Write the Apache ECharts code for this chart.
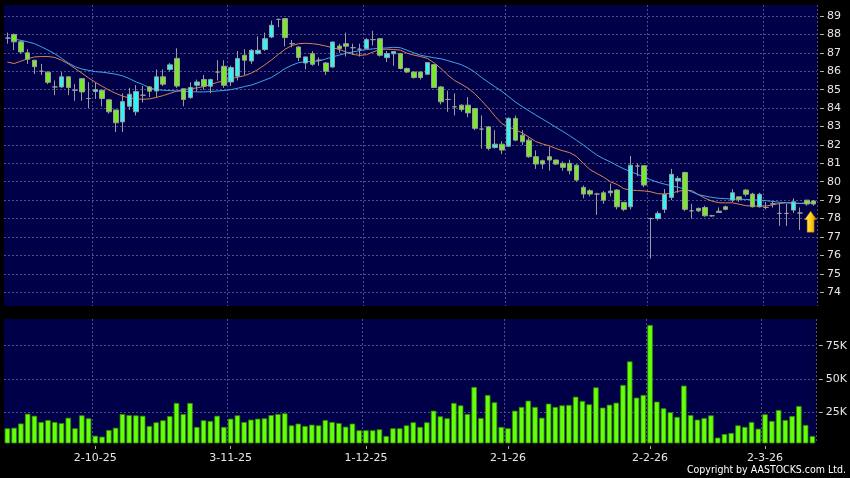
<!DOCTYPE html>
<html><head><meta charset="utf-8">
<script src="https://cdn.jsdelivr.net/npm/echarts@6/dist/echarts.min.js"></script>
<style>html,body{margin:0;padding:0;background:#000;}#c{width:850px;height:478px;}</style>
</head><body><div id="c"></div>
<script>
const dates = [
'12-9-25','15-9-25','16-9-25','17-9-25','18-9-25','19-9-25','22-9-25','23-9-25','24-9-25','25-9-25','26-9-25','29-9-25','30-9-25',
'2-10-25','3-10-25','6-10-25','8-10-25','9-10-25','10-10-25','13-10-25','14-10-25','15-10-25','16-10-25','17-10-25','20-10-25','21-10-25','22-10-25','23-10-25','24-10-25','27-10-25','28-10-25','30-10-25','31-10-25',
'3-11-25','4-11-25','5-11-25','6-11-25','7-11-25','10-11-25','11-11-25','12-11-25','13-11-25','14-11-25','17-11-25','18-11-25','19-11-25','20-11-25','21-11-25','24-11-25','25-11-25','26-11-25','27-11-25','28-11-25',
'1-12-25','2-12-25','3-12-25','4-12-25','5-12-25','8-12-25','9-12-25','10-12-25','11-12-25','12-12-25','15-12-25','16-12-25','17-12-25','18-12-25','19-12-25','22-12-25','23-12-25','24-12-25','29-12-25','30-12-25','31-12-25',
'2-1-26','5-1-26','6-1-26','7-1-26','8-1-26','9-1-26','12-1-26','13-1-26','14-1-26','15-1-26','16-1-26','19-1-26','20-1-26','21-1-26','22-1-26','23-1-26','26-1-26','27-1-26','28-1-26','29-1-26','30-1-26',
'2-2-26','3-2-26','4-2-26','5-2-26','6-2-26','9-2-26','10-2-26','11-2-26','12-2-26','13-2-26','16-2-26','20-2-26','23-2-26','24-2-26','25-2-26','26-2-26','27-2-26',
'2-3-26','3-3-26','4-3-26','5-3-26','6-3-26','9-3-26','10-3-26','11-3-26'
];
// [open, close, low, high]
const ohlc = [
[87.8,87.8,87.5,88.1],[88.0,87.6,87.15,88.05],[87.6,87.05,86.95,87.65],[87.0,86.65,86.4,87.2],[86.6,86.25,85.85,86.6],
[86.0,86.0,85.8,86.4],[85.95,85.4,85.3,86.0],[85.15,85.15,84.7,85.5],[85.15,85.7,85.1,85.95],[85.7,85.12,84.7,85.7],
[84.97,84.97,84.4,85.3],[85.6,84.88,84.4,85.6],[84.52,84.52,84.0,85.4],[84.9,85.0,84.5,85.4],[84.97,84.52,84.1,85.0],
[84.45,83.8,83.7,84.5],[83.9,83.2,82.7,83.9],[83.25,84.35,82.7,84.8],[84.1,84.75,83.9,85.1],[83.8,84.9,83.6,85.25],
[84.7,84.7,84.3,85.2],[85.15,84.92,84.6,85.2],[84.93,85.7,84.6,86.1],[85.7,85.3,85.2,86.1],[86.1,86.35,86.0,86.45],
[86.7,85.2,85.1,87.25],[85.05,84.47,84.1,85.05],[84.57,85.12,84.5,85.4],[85.24,85.42,84.9,85.55],[85.55,85.19,85.0,85.8],
[85.19,85.55,84.8,85.6],[85.96,85.96,85.5,86.6],[86.27,85.24,85.1,86.6],[85.42,86.2,85.2,86.3],[85.73,86.69,85.5,87.1],
[86.87,86.6,85.8,87.2],[86.56,87.14,86.4,87.2],[86.96,87.14,86.9,87.9],[87.18,87.77,87.1,88.1],[87.86,88.5,87.8,88.75],
[88.82,88.82,88.4,88.85],[88.86,87.83,87.35,88.86],[87.5,87.5,87.3,87.7],[87.32,86.75,86.55,87.35],[86.45,86.78,86.1,86.8],
[86.96,86.38,86.3,87.1],[86.6,86.6,86.3,86.75],[86.45,86.0,85.8,86.5],[86.23,87.59,86.2,87.6],[87.37,87.23,87.0,87.5],
[87.5,87.36,86.8,88.1],[87.28,87.28,86.9,87.5],[87.2,87.2,86.8,87.5],[87.23,87.72,87.2,87.8],[87.72,87.72,87.4,88.2],
[87.77,86.87,86.8,87.8],[86.74,86.96,86.5,87.1],[86.95,87.07,86.3,87.1],[86.96,86.15,86.1,87.0],[86.15,85.96,85.9,86.2],
[85.96,85.66,85.6,86.0],[85.96,85.66,85.55,86.0],[85.84,86.47,85.8,86.5],[86.36,85.12,85.1,86.4],[85.15,84.34,84.2,85.2],
[84.47,84.47,83.8,84.95],[84.07,84.07,83.6,84.8],[84.16,83.92,83.8,84.2],[84.16,83.74,83.5,84.6],[83.98,82.9,82.8,84.0],
[82.86,82.86,81.8,83.6],[82.98,81.81,81.7,83.0],[81.86,82.04,81.8,82.8],[82.04,81.72,81.5,82.2],[81.93,83.44,81.9,83.5],
[83.44,82.26,82.2,83.6],[82.53,82.17,82.0,82.8],[82.26,81.36,81.3,82.4],[81.36,80.96,80.7,81.7],[81.14,80.96,80.7,81.2],
[81.36,81.18,80.6,81.9],[81.18,80.96,80.9,81.2],[81.0,80.78,80.6,81.1],[81.0,80.6,80.4,81.2],[80.9,80.09,80.0,80.95],
[79.69,79.33,79.1,79.8],[79.51,79.33,79.2,79.6],[79.33,79.33,78.2,79.4],[79.4,79.0,78.8,79.5],[79.4,79.49,79.2,79.9],
[79.55,78.64,78.5,79.6],[78.88,78.5,78.4,78.9],[78.64,80.9,78.5,81.4],[80.85,80.85,80.3,81.0],[80.87,79.82,79.7,80.9],
[78.0,78.0,75.83,78.05],[78.0,78.28,77.9,78.4],[78.5,79.32,78.3,79.6],[79.15,80.4,79.0,80.7],[80.04,80.18,79.4,80.3],
[80.5,78.5,78.4,80.55],[78.42,78.42,78.0,78.8],[78.55,78.42,78.35,78.6],[78.6,78.15,78.1,78.7],[78.15,78.15,78.1,78.2],
[78.4,78.33,78.3,78.6],[78.64,78.5,78.45,78.7],[79.0,79.4,78.9,79.6],[79.18,79.04,78.9,79.2],[79.55,79.32,79.2,79.6],
[79.33,78.64,78.6,79.4],[78.64,79.32,78.6,79.4],[78.6,78.6,78.5,78.9],[78.8,78.8,78.6,78.9],[78.28,78.28,77.6,78.8],
[78.28,78.28,77.6,78.8],[78.46,78.91,78.3,79.1],[78.3,78.3,77.38,78.6],[79.0,78.79,78.7,79.0],[78.96,78.79,78.7,79.0]
];
const maFast = [
86.5,86.42,86.55,86.68,86.78,86.8,86.8,86.75,86.6,86.4,
86.15,85.9,85.63,85.4,85.18,84.98,84.8,84.65,84.55,84.5,
84.48,84.5,84.58,84.68,84.8,84.92,85.0,85.05,85.1,85.17,
85.28,85.4,85.48,85.58,85.68,85.76,85.9,86.1,86.35,86.62,
86.92,87.2,87.4,87.5,87.52,87.5,87.45,87.37,87.28,87.18,
87.05,86.92,86.86,86.9,87.05,87.18,87.2,87.18,87.15,86.98,
86.88,86.8,86.7,86.45,86.15,85.8,85.5,85.3,85.08,84.78,
84.4,84.0,83.55,83.15,82.98,82.82,82.65,82.42,82.18,82.05,
81.95,81.8,81.68,81.58,81.38,81.0,80.66,80.45,80.25,80.0,
79.85,79.62,79.55,79.52,79.5,79.45,79.35,79.33,79.38,79.48,
79.55,79.52,79.3,79.1,78.95,78.86,78.85,78.86,78.78,78.7,
78.68,78.68,78.68,78.75,78.82,78.86,78.84,78.82,78.86,78.9
];
const maSlow = [
87.83,87.75,87.68,87.6,87.5,87.33,87.15,86.95,86.7,86.45,
86.25,86.12,86.05,85.98,85.95,85.9,85.84,85.75,85.6,85.42,
85.28,85.1,85.0,84.97,84.95,84.93,84.92,84.9,84.88,84.88,
84.9,84.93,84.96,85.0,85.08,85.17,85.25,85.38,85.52,85.67,
85.9,86.15,86.33,86.47,86.52,86.53,86.56,86.67,86.78,86.88,
86.98,87.05,87.12,87.18,87.22,87.25,87.27,87.3,87.28,87.14,
87.0,86.87,86.8,86.73,86.68,86.58,86.47,86.36,86.18,85.95,
85.66,85.4,85.15,84.9,84.62,84.33,84.08,83.85,83.62,83.4,
83.18,82.95,82.73,82.5,82.25,82.0,81.72,81.45,81.25,81.08,
80.88,80.7,80.55,80.4,80.25,80.1,79.97,79.87,79.78,79.7,
79.6,79.45,79.3,79.22,79.15,79.1,79.08,79.06,79.05,79.04,
79.02,79.0,78.97,78.93,78.88,78.86,78.84,78.82,78.83,78.85
];
// volume in thousands of shares
const volumeK = [
13.0,13.4,16.6,23.9,22.4,17.7,19.2,17.7,16.9,20.9,
13.0,22.7,20.5,7.4,6.7,11.7,13.4,23.7,22.9,22.7,
22.4,14.7,17.5,19.0,22.2,32.0,23.7,32.0,14.0,19.0,
18.5,22.4,14.0,20.2,22.7,17.7,19.5,20.2,20.5,22.9,
23.7,24.2,15.2,16.5,14.7,15.7,15.2,19.2,17.7,16.9,
14.2,16.5,11.5,11.5,11.5,12.2,7.2,13.0,13.0,15.2,
17.5,14.0,17.5,26.2,22.0,20.5,32.0,30.2,23.7,44.0,
20.7,38.0,32.5,14.0,13.0,26.2,29.0,33.7,29.0,20.9,
31.5,29.0,30.2,30.5,36.7,33.5,31.0,43.7,28.5,30.7,
32.2,45.5,63.2,36.0,38.0,90.5,33.0,28.0,25.0,21.5,
45.0,22.9,19.5,20.7,22.7,6.0,8.7,9.5,15.2,14.0,
17.7,12.7,23.5,18.5,26.7,19.2,22.2,29.7,15.5,7.2
];
const priceTicks = [74,75,76,77,78,79,80,81,82,83,84,85,86,87,88,89];
const volumeTicks = [25,50,75];
const monthStartLabels = ['2-10-25','3-11-25','1-12-25','2-1-26','2-2-26','2-3-26'];
const copyrightText = 'Copyright by AASTOCKS.com Ltd.';

const navy = '#000048';
const gridColor = '#4e4e8c';
const textColor = '#e6e6e6';
const isMonthStart = (i, v) => monthStartLabels.indexOf(v) >= 0;
const splitStyle = {color: gridColor, type: [2, 2], width: 1};
const last = ohlc.length - 1;

const chart = echarts.init(document.getElementById('c'), null, {renderer: 'canvas'});
chart.setOption({
  backgroundColor: '#000',
  animation: false,
  grid: [
    {left: 4, top: 5, width: 813, height: 301, show: true, backgroundColor: navy, borderWidth: 0},
    {left: 4, top: 319, width: 813, height: 124, show: true, backgroundColor: navy, borderWidth: 0}
  ],
  xAxis: [
    {type: 'category', gridIndex: 0, data: dates, boundaryGap: true,
     axisLine: {show: false}, axisTick: {show: false}, axisLabel: {show: false},
     splitLine: {show: true, interval: isMonthStart, lineStyle: splitStyle}},
    {type: 'category', gridIndex: 1, data: dates, boundaryGap: true, offset: 3,
     axisLine: {show: false},
     axisTick: {show: true, alignWithLabel: true, interval: isMonthStart, length: 3, lineStyle: {color: '#b0b0b0'}},
     axisLabel: {interval: isMonthStart, color: textColor, fontSize: 11, fontFamily: 'DejaVu Sans', margin: 7},
     splitLine: {show: true, interval: isMonthStart, lineStyle: splitStyle}}
  ],
  yAxis: [
    {type: 'value', gridIndex: 0, position: 'right', min: 73.25, max: 89.6, offset: 3,
     axisLine: {show: false},
     axisTick: {show: true, length: 4, customValues: priceTicks, lineStyle: {color: '#b0b0b0'}},
     axisLabel: {customValues: priceTicks, color: textColor, fontSize: 11, fontFamily: 'DejaVu Sans', margin: 7},
     splitLine: {show: true, lineStyle: splitStyle}},
    {type: 'value', gridIndex: 1, position: 'right', min: 1.95, max: 95, offset: 3,
     axisLine: {show: false},
     axisTick: {show: true, length: 4, customValues: volumeTicks, lineStyle: {color: '#b0b0b0'}},
     axisLabel: {customValues: volumeTicks, color: textColor, fontSize: 11, fontFamily: 'DejaVu Sans', margin: 7,
                 formatter: v => v + 'K'},
     splitLine: {show: true, lineStyle: splitStyle}}
  ],
  series: [
    {type: 'line', xAxisIndex: 0, yAxisIndex: 0, data: maFast, symbol: 'none', silent: true, z: 2,
     lineStyle: {color: '#d9824e', width: 1}},
    {type: 'line', xAxisIndex: 0, yAxisIndex: 0, data: maSlow, symbol: 'none', silent: true, z: 2,
     lineStyle: {color: '#3ea6ea', width: 1}},
    {type: 'candlestick', xAxisIndex: 0, yAxisIndex: 0, data: ohlc, barWidth: 5, z: 3,
     itemStyle: {color: '#2ff4f4', color0: '#7ae82a', borderColor: '#9c9c9c', borderColor0: '#9c9c9c',
                 borderColorDoji: '#9c9c9c', borderWidth: 1},
     markPoint: {silent: true, symbol: 'path://M6,0 L12,8.5 L9.5,8.5 L9.5,21 L2.5,21 L2.5,8.5 L0,8.5 Z',
       symbolSize: [12, 21], symbolKeepAspect: false, label: {show: false},
       itemStyle: {color: new echarts.graphic.LinearGradient(0, 0, 1, 0, [{offset: 0, color: '#fff07a'}, {offset: 0.5, color: '#ffd21a'}, {offset: 1, color: '#d98e00'}]),
                   borderColor: '#a86a00', borderWidth: 0.5},
       data: [{coord: [dates[last], ohlc[last][2]], symbolOffset: [-3, 16]}]}},
    {type: 'bar', xAxisIndex: 1, yAxisIndex: 1, data: volumeK, barWidth: 5.5,
     itemStyle: {color: '#66ff0a', borderColor: '#2e8a00', borderWidth: 0.8}}
  ],
  graphic: [
    {type: 'text', right: 4, top: 465, silent: true,
     style: {text: copyrightText, fill: '#ffffff', font: '10.5px "DejaVu Sans Condensed", "DejaVu Sans"'}}
  ]
});
</script></body></html>
